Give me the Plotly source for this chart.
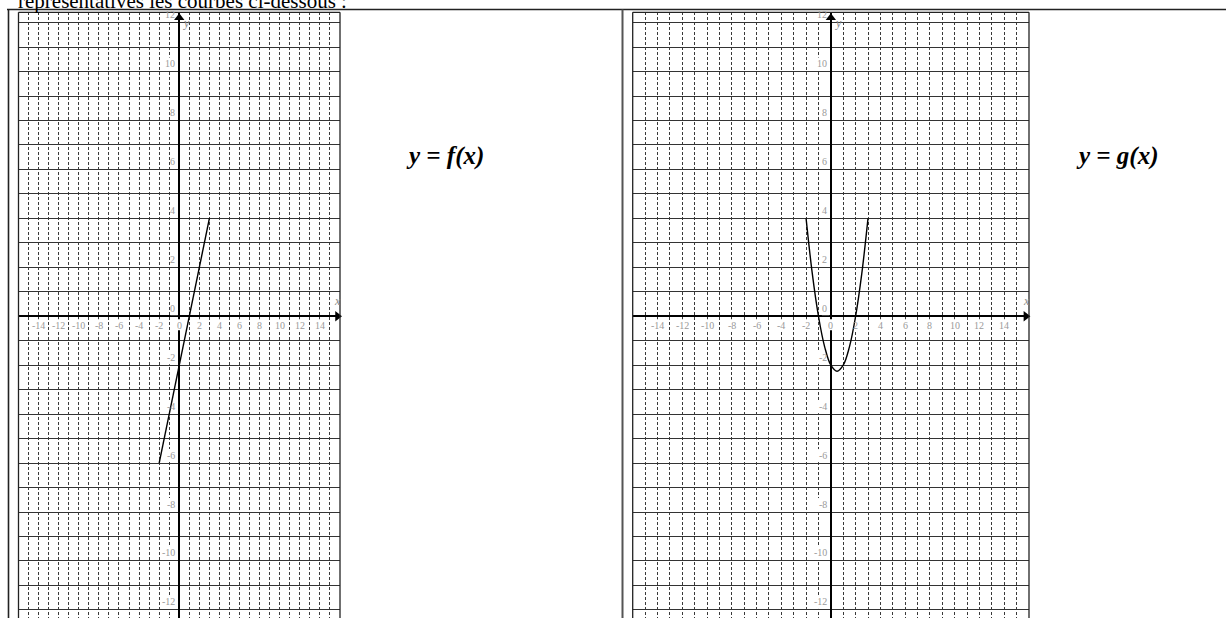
import plotly.graph_objects as go

W, H = 1226, 618

# Curve f: straight segment between its two end points
f_x = [-2, 3]
f_y = [-6, 4]

# Curve g: points of the parabola read on the grid
g_x = [-2, -1.5, -1, -0.5, 0, 0.5, 1, 1.5, 2, 2.5, 3]
g_y = [4, 1.75, 0, -1.25, -2, -2.25, -2, -1.25, 0, 1.75, 4]

# Graduations written along the axes
x_tick_vals = [-14, -12, -10, -8, -6, -4, -2, 0, 2, 4, 6, 8, 10, 12, 14]
y_tick_vals = [12, 10, 8, 6, 4, 2, 0, -2, -4, -6, -8, -10, -12]

header_text = "représentatives les courbes ci-dessous :"
f_title = "y = f(x)"
g_title = "y = g(x)"

X_RANGE = [-16, 16]
Y_RANGE = [-12.33, 12.42]

# pixel placement of the two grids
grid_top = 12.3
left_px = (18.5, 340.0)
right_px = (632.7, 1029.0)


def px_x(p):
    return p / W


def px_y(p):
    return 1 - p / H


fig = go.Figure()

fig.add_trace(go.Scatter(x=f_x, y=f_y, mode="lines",
                         line=dict(color="black", width=1.4),
                         xaxis="x", yaxis="y", showlegend=False, hoverinfo="skip"))
fig.add_trace(go.Scatter(x=g_x, y=g_y, mode="lines", line_shape="spline",
                         line=dict(color="black", width=1.4),
                         xaxis="x2", yaxis="y2", showlegend=False, hoverinfo="skip"))

# arrow heads at the ends of the axes
for xa, ya in (("x", "y"), ("x2", "y2")):
    fig.add_trace(go.Scatter(x=[15.75], y=[0], mode="markers",
                             marker=dict(symbol="triangle-right", size=9, color="black"),
                             xaxis=xa, yaxis=ya, cliponaxis=False,
                             showlegend=False, hoverinfo="skip"))
    fig.add_trace(go.Scatter(x=[0], y=[12.2], mode="markers",
                             marker=dict(symbol="triangle-up", size=9, color="black"),
                             xaxis=xa, yaxis=ya, cliponaxis=False,
                             showlegend=False, hoverinfo="skip"))

xaxis_common = dict(range=X_RANGE, showgrid=True, dtick=1, tick0=0,
                    gridcolor="#3a3a3a", gridwidth=1, griddash="3px,2px",
                    zeroline=True, zerolinecolor="black", zerolinewidth=1.6,
                    showticklabels=False, ticks="", showline=False, fixedrange=True)
yaxis_common = dict(range=Y_RANGE, showgrid=True, dtick=1, tick0=0,
                    gridcolor="#333333", gridwidth=1.3,
                    zeroline=True, zerolinecolor="black", zerolinewidth=2,
                    showticklabels=False, ticks="", showline=False, fixedrange=True)

fig.update_layout(
    width=W, height=H, autosize=False,
    margin=dict(l=0, r=0, t=0, b=0),
    paper_bgcolor="white", plot_bgcolor="white",
    xaxis=dict(domain=[px_x(left_px[0]), px_x(left_px[1])], anchor="y", **xaxis_common),
    yaxis=dict(domain=[0, px_y(grid_top)], anchor="x", **yaxis_common),
    xaxis2=dict(domain=[px_x(right_px[0]), px_x(right_px[1])], anchor="y2", **xaxis_common),
    yaxis2=dict(domain=[0, px_y(grid_top)], anchor="x2", **yaxis_common),
)

annotations = []
shapes = []
tick_font = dict(family="Liberation Sans Narrow, Liberation Serif, serif", size=10, color="#9a9a9a")
white_box = dict(type="rect", layer="between", fillcolor="white", line=dict(width=0),
                 xsizemode="pixel", ysizemode="pixel")
for xa, ya in (("x", "y"), ("x2", "y2")):
    for v in x_tick_vals:
        w = 4.5 * len(str(v)) + 2
        shapes.append(dict(xref=xa, yref=ya, xanchor=v, yanchor=0,
                           x0=-w / 2, x1=w / 2, y0=-3, y1=-14, **white_box))
        annotations.append(dict(x=v, y=0, xref=xa, yref=ya, text=str(v), showarrow=False,
                                xanchor="center", yanchor="top", yshift=-2,
                                font=tick_font))
    for v in y_tick_vals:
        w = 4.5 * len(str(v)) + 3
        shapes.append(dict(xref=xa, yref=ya, xanchor=0, yanchor=v,
                           x0=-1.5 - w, x1=-1.5, y0=1, y1=14, **white_box))
        annotations.append(dict(x=0, y=v, xref=xa, yref=ya, text=str(v), showarrow=False,
                                xanchor="right", yanchor="middle", xshift=-2, yshift=8,
                                font=tick_font))
    axis_font = dict(family="Liberation Serif, serif", size=12, color="#8a8a8a")
    annotations.append(dict(x=16, y=0, xref=xa, yref=ya, text="<i>x</i>", showarrow=False,
                            xanchor="center", yanchor="bottom", xshift=-3, yshift=6,
                            font=axis_font))
    annotations.append(dict(x=0, y=12.42, xref=xa, yref=ya, text="<i>y</i>", showarrow=False,
                            xanchor="left", yanchor="top", xshift=2, yshift=-2,
                            font=axis_font))

title_font = dict(family="Liberation Serif, serif", size=25, color="black")
annotations.append(dict(x=px_x(445), y=px_y(156), xref="paper", yref="paper",
                        text="<b><i>" + f_title + "</i></b>", showarrow=False,
                        xanchor="center", yanchor="middle", font=title_font))
annotations.append(dict(x=px_x(1117), y=px_y(156), xref="paper", yref="paper",
                        text="<b><i>" + g_title + "</i></b>", showarrow=False,
                        xanchor="center", yanchor="middle", font=title_font))
annotations.append(dict(x=px_x(16), y=px_y(15), xref="paper", yref="paper",
                        text=header_text, showarrow=False,
                        xanchor="left", yanchor="bottom",
                        font=dict(family="Liberation Serif, serif", size=21, color="black")))
fig.update_layout(annotations=annotations)

# table rules and the frames around the two grids
line_dark = dict(color="#222222", width=1.6)
shapes.append(dict(type="line", xref="paper", yref="paper",
                   x0=px_x(7), x1=1, y0=px_y(9.5), y1=px_y(9.5), line=line_dark))
shapes.append(dict(type="line", xref="paper", yref="paper",
                   x0=px_x(8.5), x1=px_x(8.5), y0=px_y(9.5), y1=0, line=line_dark))
shapes.append(dict(type="line", xref="paper", yref="paper",
                   x0=px_x(622.5), x1=px_x(622.5), y0=px_y(9.5), y1=0,
                   line=dict(color="#555555", width=2)))
for (a, b) in (left_px, right_px):
    frame = dict(color="#222222", width=1.3)
    shapes.append(dict(type="line", xref="paper", yref="paper",
                       x0=px_x(a), x1=px_x(b), y0=px_y(grid_top), y1=px_y(grid_top), line=frame))
    shapes.append(dict(type="line", xref="paper", yref="paper",
                       x0=px_x(a), x1=px_x(a), y0=px_y(grid_top), y1=0, line=frame))
    shapes.append(dict(type="line", xref="paper", yref="paper",
                       x0=px_x(b), x1=px_x(b), y0=px_y(grid_top), y1=0, line=frame))
fig.update_layout(shapes=shapes)

fig.write_html("out.html")
